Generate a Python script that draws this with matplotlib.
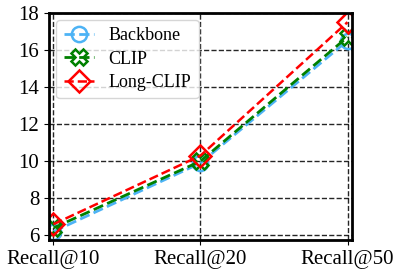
import numpy as np
import matplotlib
matplotlib.use('Agg')
import matplotlib.pyplot as plt

plt.rcParams['font.family'] = ['Liberation Serif', 'DejaVu Serif']

labels = ['Recall@10', 'Recall@20', 'Recall@50']
backbone = [6.2, 9.9, 16.5]
clip = [6.4, 10.0, 16.7]
longclip = [6.6, 10.3, 17.5]

x = np.arange(len(labels))

fig = plt.figure(figsize=(3.99, 2.69), dpi=100)
ax = fig.add_axes([0.123, 0.108, 0.759, 0.844])

ax.plot(x, backbone, '--', color='#4db3f5', lw=2, marker='o', ms=11,
        mfc='none', mew=1.8, label='Backbone')
ax.plot(x, clip, '--', color='green', lw=2, marker='X', ms=12,
        mfc='none', mew=1.8, label='CLIP')
ax.plot(x, longclip, '--', color='red', lw=1.8, marker='D', ms=11,
        mfc='none', mew=1.8, label='Long-CLIP')

ax.set_xticks(x)
ax.set_xticklabels(labels, fontsize=15)
ax.set_yticks([6, 8, 10, 12, 14, 16, 18])
ax.tick_params(axis='y', labelsize=15)
ax.set_xlim(-0.03, 2.03)
ax.set_ylim(5.75, 18)
ax.grid(True, ls='--', color='black', lw=1, alpha=0.85)
for s in ax.spines.values():
    s.set_linewidth(2)

ax.legend(loc='upper left', fontsize=13, handlelength=1.7,
          labelspacing=0.35, borderaxespad=0.4)

fig.savefig('out.png', dpi=100)
